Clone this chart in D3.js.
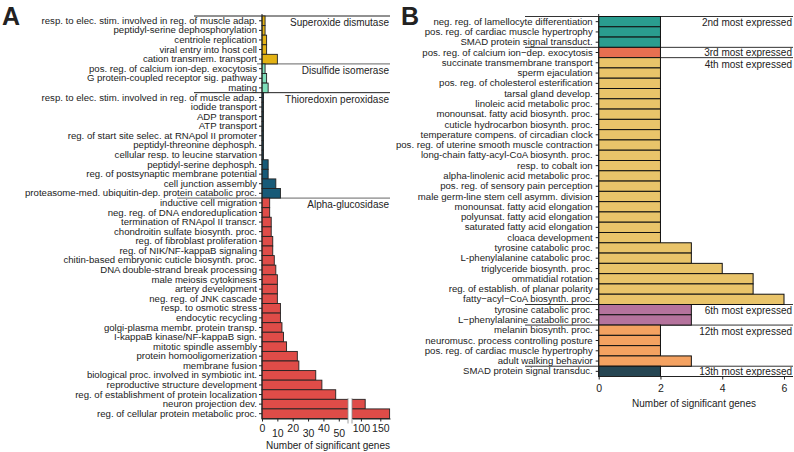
<!DOCTYPE html>
<html>
<head>
<meta charset="utf-8">
<script src="https://cdn.jsdelivr.net/npm/d3@7"></script>
<style>
  body { margin: 0; background: #fff; }
  text { font-family: "Liberation Sans", Arial, sans-serif; fill: #222; }
</style>
</head>
<body>
<div id="chart"></div>
<script>
// ---- panel A data (GO terms per enzyme family) ----
var sodTerms = ["resp. to elec. stim. involved in reg. of muscle adap.", "peptidyl-serine dephosphorylation",
  "centriole replication", "viral entry into host cell", "cation transmem. transport"];
var sodGenes = [2, 2, 3, 3, 10];

var pdiTerms = ["pos. reg. of calcium ion-dep. exocytosis", "G protein-coupled receptor sig. pathway", "mating"];
var pdiGenes = [2, 3, 4];

var trxTerms = ["resp. to elec. stim. involved in reg. of muscle adap.", "iodide transport", "ADP transport",
  "ATP transport", "reg. of start site selec. at RNApol II promoter", "peptidyl-threonine dephosph.",
  "cellular resp. to leucine starvation", "peptidyl-serine dephosph.", "reg. of postsynaptic membrane potential",
  "cell junction assembly", "proteasome-med. ubiquitin-dep. protein catabolic proc."];
var trxGenes = [1, 1, 1, 1, 1, 1, 1, 4, 4, 9, 12];

var agluTerms = ["inductive cell migration", "neg. reg. of DNA endoreduplication", "termination of RNApol II transcr.",
  "chondroitin sulfate biosynth. proc.", "reg. of fibroblast proliferation", "reg. of NIK/NF-kappaB signaling",
  "chitin-based embryonic cuticle biosynth. proc.", "DNA double-strand break processing", "male meiosis cytokinesis",
  "artery development", "neg. reg. of JNK cascade", "resp. to osmotic stress", "endocytic recycling",
  "golgi-plasma membr. protein transp.", "I-kappaB kinase/NF-kappaB sign.", "mitotic spindle assembly",
  "protein homooligomerization", "membrane fusion", "biological proc. involved in symbiotic int.",
  "reproductive structure development", "reg. of establishment of protein localization",
  "neuron projection dev.", "reg. of cellular protein metabolic proc."];
var agluGenes = [5, 5, 6, 6, 7, 7, 8, 9, 10, 10, 10, 12, 12, 13, 14, 16, 23, 24, 35, 39, 48, 111, 174];

var groupsA = ["Superoxide dismutase", "Disulfide isomerase", "Thioredoxin peroxidase", "Alpha-glucosidase"];
var ticksLowA = [0, 10, 20, 30, 40, 50];
var ticksHighA = [100, 150];

// ---- panel B data (rank of expression) ----
var r2Terms = ["neg. reg. of lamellocyte differentiation", "pos. reg. of cardiac muscle hypertrophy", "SMAD protein signal transduct."];
var r2Genes = [2, 2, 2];
var r3Terms = ["pos. reg. of calcium ion\u2212dep. exocytosis"];
var r3Genes = [2];
var r4Terms = ["succinate transmembrane transport", "sperm ejaculation", "pos. reg. of cholesterol esterification",
  "tarsal gland develop.", "linoleic acid metabolic proc.", "monounsat. fatty acid biosynth. proc.",
  "cuticle hydrocarbon biosynth. proc.", "temperature compens. of circadian clock",
  "pos. reg. of uterine smooth muscle contraction", "long-chain fatty-acyl-CoA biosynth. proc.",
  "resp. to cobalt ion", "alpha-linolenic acid metabolic proc.", "pos. reg. of sensory pain perception",
  "male germ-line stem cell asymm. division", "monounsat. fatty acid elongation", "polyunsat. fatty acid elongation",
  "saturated fatty acid elongation", "cloaca development", "tyrosine catabolic proc.", "L-phenylalanine catabolic proc.",
  "triglyceride biosynth. proc.", "ommatidial rotation", "reg. of establish. of planar polarity",
  "fatty\u2212acyl\u2212CoA biosynth. proc."];
var r4Genes = [2, 2, 2, 2, 2, 2, 2, 2, 2, 2, 2, 2, 2, 2, 2, 2, 2, 2, 3, 3, 4, 5, 5, 6];
var r6Terms = ["tyrosine catabolic proc.", "L\u2212phenylalanine catabolic proc."];
var r6Genes = [3, 3];
var r12Terms = ["melanin biosynth. proc.", "neuromusc. process controlling posture",
  "pos. reg. of cardiac muscle hypertrophy", "adult walking behavior"];
var r12Genes = [2, 2, 2, 3];
var r13Terms = ["SMAD protein signal transduc."];
var r13Genes = [2];

var groupsB = ["2nd most expressed", "3rd most expressed", "4th most expressed",
  "6th most expressed", "12th most expressed", "13th most expressed"];
var ticksB = [0, 2, 4, 6];

// styles
var colorsA = ["#e3b214", "#7fe0bb", "#175a78", "#df4c48"];
var colorsB = ["#2a9d8f", "#e76f51", "#e9c46a", "#b5739d", "#f4a261", "#264653"];
var lineStartA = [194, 257, 194, 177];
var lineStartB = [525, 525, 598, 525, 525, 525];
var labelShiftB = [0.5, 0, 1.6, 1, 1, 0.5];

function buildRows(termLists, geneLists) {
  var rows = [];
  termLists.forEach(function(terms, g) {
    terms.forEach(function(t, k) {
      rows.push({term: t, genes: geneLists[g][k], group: g, first: k == 0});
    });
  });
  return rows;
}

var rowsA = buildRows([sodTerms, pdiTerms, trxTerms, agluTerms], [sodGenes, pdiGenes, trxGenes, agluGenes]);
var rowsB = buildRows([r2Terms, r3Terms, r4Terms, r6Terms, r12Terms, r13Terms],
                      [r2Genes, r3Genes, r4Genes, r6Genes, r12Genes, r13Genes]);

var width = 794, height = 452;
var svg = d3.select("#chart").append("svg").attr("width", width).attr("height", height);

// =========== Panel A ===========
var x0A = 262, breakL = 348, breakR = 352, rightA = 390, bottomA = 418.5;
var xLowA = d3.scaleLinear().domain([0, 56]).range([x0A, breakL]);
var xHighA = d3.scaleLinear().domain([77, 175]).range([breakR, rightA]);
function xA(v) { return v <= 56 ? xLowA(v) : xHighA(v); }

var yA = d3.scaleBand().domain(d3.range(rowsA.length)).range([16, bottomA]).padding(0);

var gA = svg.append("g");

// group separators
rowsA.forEach(function(d, i) {
  if (!d.first) return;
  gA.append("line")
    .attr("x1", lineStartA[d.group]).attr("x2", rightA)
    .attr("y1", yA(i)).attr("y2", yA(i))
    .attr("stroke", d.group == 0 || d.group == 2 ? "#222" : "#666").attr("stroke-width", 1);
  gA.append("text")
    .attr("x", rightA - 1).attr("y", yA(i) + yA.bandwidth() / 2 + 2)
    .attr("dy", "0.35em").attr("text-anchor", "end").attr("font-size", "10px")
    .text(groupsA[d.group]);
});

gA.selectAll("rect.bar").data(rowsA).enter().append("rect")
  .attr("class", "bar")
  .attr("x", xA(0))
  .attr("y", (d, i) => yA(i))
  .attr("width", d => xA(d.genes) - xA(0))
  .attr("height", yA.bandwidth())
  .attr("fill", d => colorsA[d.group])
  .attr("stroke", "#222").attr("stroke-width", 0.9);

// y axis with GO terms
var yAxisA = gA.append("g").attr("transform", "translate(" + x0A + ",0)")
  .call(d3.axisLeft(yA).tickSize(3).tickSizeOuter(0).tickPadding(2).tickFormat(i => rowsA[i].term));
yAxisA.selectAll("text").attr("font-size", "9.6px").attr("font-family", null);
yAxisA.selectAll("line,path").attr("stroke", "#222");
yAxisA.select(".domain").attr("d", "M0,14V" + (bottomA + 1));

// broken x axis
var xAxLow = gA.append("g").attr("transform", "translate(0," + bottomA + ")")
  .call(d3.axisBottom(xLowA).tickValues(ticksLowA).tickSize(3).tickPadding(3).tickSizeOuter(0));
var xAxHigh = gA.append("g").attr("transform", "translate(0," + bottomA + ")")
  .call(d3.axisBottom(xHighA).tickValues(ticksHighA).tickSize(3).tickPadding(3).tickSizeOuter(0));
[xAxLow, xAxHigh].forEach(function(ax) {
  ax.selectAll("text").attr("font-size", "10.5px").attr("font-family", null);
  ax.selectAll("line,path").attr("stroke", "#222");
});
xAxLow.selectAll(".tick text").attr("y", (d, i) => i % 2 ? 11 : 6);

// break marks
gA.append("rect").attr("x", breakL).attr("y", yA(rowsA.length - 2) - 1)
  .attr("width", breakR - breakL).attr("height", bottomA - yA(rowsA.length - 2) + 6).attr("fill", "#fff");
[breakL, breakR].forEach(function(bx) {
  gA.append("line").attr("x1", bx).attr("x2", bx)
    .attr("y1", yA(rowsA.length - 2) - 1).attr("y2", bottomA + 5)
    .attr("stroke", "#888").attr("stroke-width", 0.8);
});

gA.append("text").attr("x", 328).attr("y", 449).attr("text-anchor", "middle")
  .attr("font-size", "10px").text("Number of significant genes");

svg.append("text").attr("x", 2).attr("y", 25).attr("font-size", "25px").attr("font-weight", "bold").text("A");

// =========== Panel B ===========
var x0B = 598.7, rightB = 793, bottomB = 376.5;
var xB = d3.scaleLinear().domain([0, 6]).range([x0B, 784]);
var yB = d3.scaleBand().domain(d3.range(rowsB.length)).range([16.5, bottomB]).padding(0);

var gB = svg.append("g");

rowsB.forEach(function(d, i) {
  if (!d.first) return;
  gB.append("line")
    .attr("x1", lineStartB[d.group]).attr("x2", rightB)
    .attr("y1", yB(i)).attr("y2", yB(i))
    .attr("stroke", "#333").attr("stroke-width", 1);
  gB.append("text")
    .attr("x", rightB - 1).attr("y", yB(i) + yB.bandwidth() / 2 + labelShiftB[d.group])
    .attr("dy", "0.35em").attr("text-anchor", "end").attr("font-size", "10px")
    .text(groupsB[d.group]);
});

gB.selectAll("rect.bar").data(rowsB).enter().append("rect")
  .attr("class", "bar")
  .attr("x", xB(0))
  .attr("y", (d, i) => yB(i))
  .attr("width", d => xB(d.genes) - xB(0))
  .attr("height", yB.bandwidth())
  .attr("fill", d => colorsB[d.group])
  .attr("stroke", "#111").attr("stroke-width", 1);

var yAxisB = gB.append("g").attr("transform", "translate(" + x0B + ",0)")
  .call(d3.axisLeft(yB).tickSize(3).tickSizeOuter(0).tickPadding(3).tickFormat(i => rowsB[i].term));
yAxisB.selectAll("text").attr("font-size", "9.6px").attr("font-family", null);
yAxisB.selectAll("line,path").attr("stroke", "#222");
yAxisB.select(".domain").attr("d", "M0,14V" + bottomB);

var xAxB = gB.append("g").attr("transform", "translate(0," + bottomB + ")")
  .call(d3.axisBottom(xB).tickValues(ticksB).tickFormat(d3.format("d")).tickSize(3).tickPadding(5).tickSizeOuter(0));
xAxB.selectAll("text").attr("font-size", "10.5px").attr("font-family", null);
xAxB.selectAll("line,path").attr("stroke", "#222");
xAxB.select(".domain").attr("d", "M" + x0B + ",0H" + rightB);

gB.append("text").attr("x", 694).attr("y", 407).attr("text-anchor", "middle")
  .attr("font-size", "10px").text("Number of significant genes");

svg.append("text").attr("x", 401).attr("y", 25).attr("font-size", "25px").attr("font-weight", "bold").text("B");
</script>
</body>
</html>
